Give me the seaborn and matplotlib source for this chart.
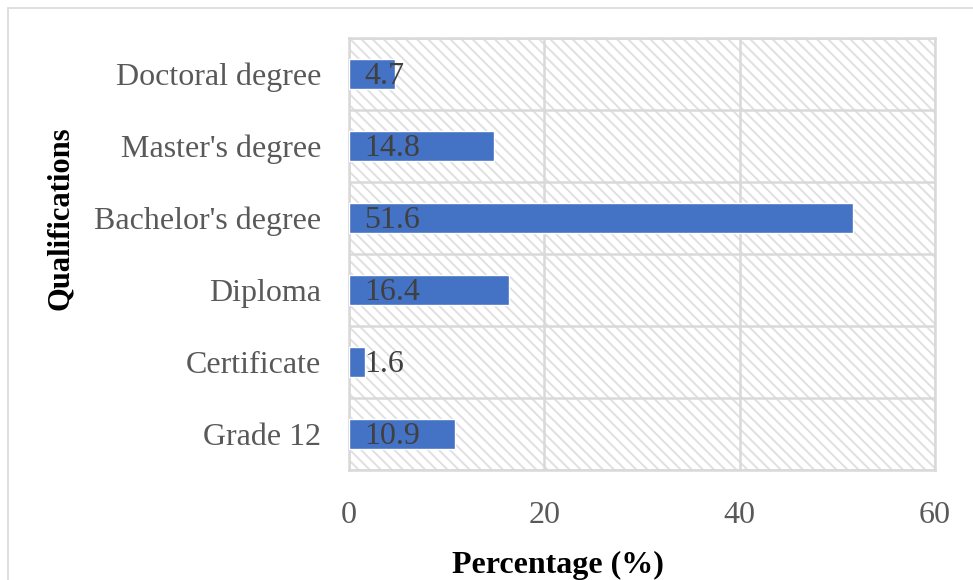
import matplotlib
matplotlib.use("Agg")
import matplotlib.pyplot as plt
import seaborn as sns
import pandas as pd
from matplotlib.patches import Rectangle

categories = ["Doctoral degree", "Master's degree", "Bachelor's degree",
              "Diploma", "Certificate", "Grade 12"]
values = [4.7, 14.8, 51.6, 16.4, 1.6, 10.9]
x_ticks = [0, 20, 40, 60]

df = pd.DataFrame({"Qualification": categories, "Percentage": values})

sns.set_theme(style="white")
plt.rcParams["font.family"] = ["Liberation Serif", "DejaVu Serif"]
plt.rcParams["hatch.color"] = "#e0e0e0"
plt.rcParams["hatch.linewidth"] = 1.4

fig = plt.figure(figsize=(9.73, 5.80), dpi=100)
# outer chart border
fig.patches.append(Rectangle((8 / 973, -0.1), 1.2, (572 / 580) + 0.1, transform=fig.transFigure,
                             facecolor="none", edgecolor="#d9d9d9", linewidth=1.2))
ax = fig.add_axes([349 / 973, 110 / 580, (935 - 349) / 973, (470 - 38) / 580])

# hatched plot-area background
ax.add_patch(Rectangle((0, 0), 1, 1, transform=ax.transAxes, facecolor="white",
                       edgecolor="#e0e0e0", hatch="\\" * 3, linewidth=0, zorder=0))

sns.barplot(data=df, y="Qualification", x="Percentage", orient="h", ax=ax,
            color="#4472C4", saturation=1, width=0.42, zorder=3)

ax.set_xlim(0, 60)
ax.set_xticks(x_ticks)
ax.set_xticklabels([str(t) for t in x_ticks])
ax.set_ylim(len(categories) - 0.5, -0.5)
ax.set_yticks(range(len(categories)))
ax.set_yticklabels(categories)
ax.set_yticks([i - 0.5 for i in range(len(categories) + 1)], minor=True)

ax.grid(False)
ax.grid(axis="x", which="major", color="#d9d9d9", linewidth=1.8, zorder=1)
ax.grid(axis="y", which="minor", color="#d9d9d9", linewidth=1.8, zorder=1)
ax.set_axisbelow(True)
for s in ax.spines.values():
    s.set_visible(True)
    s.set_color("#d9d9d9")
    s.set_linewidth(1.8)

ax.tick_params(axis="both", which="both", length=0, labelsize=23, labelcolor="#595959")
ax.tick_params(axis="x", pad=22)
ax.tick_params(axis="y", pad=20)

for i, v in enumerate(values):
    ax.annotate(f"{v}", xy=(0, i), xytext=(11, -2), textcoords="offset points",
                ha="left", va="center", fontsize=23, color="#404040", zorder=5)

ax.set_xlabel("Percentage (%)", fontsize=23, fontweight="bold", color="black")
ax.set_ylabel("Qualifications", fontsize=22, fontweight="bold", color="black")
# label positions in figure pixels
ax.xaxis.set_label_coords(558 / 973, 1 - 565 / 580, transform=fig.transFigure)
ax.xaxis.label.set_va("center")
ax.yaxis.set_label_coords(60 / 973, 1 - 218 / 580, transform=fig.transFigure)
ax.yaxis.label.set_va("center")

fig.savefig("out.png", dpi=100)
